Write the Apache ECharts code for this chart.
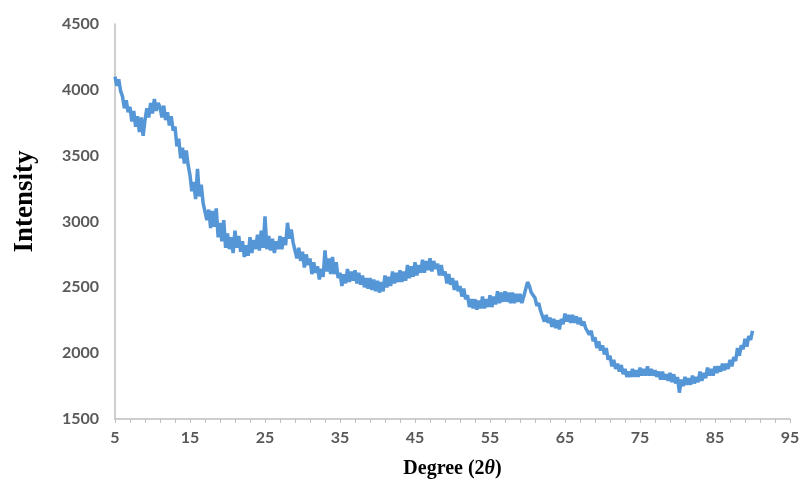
<!DOCTYPE html>
<html>
<head>
<meta charset="utf-8">
<script src="https://cdn.jsdelivr.net/npm/echarts@6/dist/echarts.min.js"></script>
<style>
  html, body { margin: 0; padding: 0; background: #fff; }
  #chart { width: 804px; height: 486px; }
</style>
</head>
<body>
<div id="chart"></div>
<script>
// XRD scan, 2theta from 5 to 90 deg, sampled every 0.25 deg
const startDeg = 5;
const stepDeg = 0.25;
const intensity = [
  4100, 4030, 4080, 3990,  3950, 3860, 3920, 3830,  3870, 3760, 3840, 3720,
  3800, 3680, 3790, 3650,  3770, 3860, 3790, 3900,  3820, 3930, 3840, 3900,
  3870, 3790, 3880, 3770,  3830, 3730, 3800, 3690,  3720, 3570, 3630, 3480,
  3560, 3440, 3540, 3430,  3350, 3230, 3300, 3170,  3400, 3190, 3280, 3140,
  3130, 3010, 3090, 2950,  3080, 2960, 3100, 2880,  2990, 2850, 3010, 2800,
  2910, 2790, 2880, 2760,  2930, 2800, 2890, 2770,  2850, 2730, 2820, 2740,
  2880, 2760, 2860, 2790,  2900, 2780, 2930, 2800,  3040, 2790, 2890, 2780,
  2870, 2760, 2850, 2790,  2890, 2790, 2880, 2820,  2990, 2870, 2940, 2840,
  2830, 2720, 2800, 2700,  2770, 2650, 2750, 2670,  2720, 2600, 2690, 2610,
  2660, 2560, 2640, 2580,  2780, 2620, 2720, 2600,  2730, 2600, 2690, 2570,
  2610, 2510, 2600, 2530,  2640, 2540, 2620, 2550,  2630, 2530, 2610, 2520,
  2590, 2500, 2570, 2490,  2570, 2480, 2560, 2470,  2550, 2460, 2540, 2470,
  2590, 2500, 2580, 2510,  2620, 2530, 2610, 2540,  2630, 2540, 2620, 2550,
  2670, 2570, 2660, 2580,  2690, 2590, 2670, 2610,  2710, 2610, 2700, 2630,
  2720, 2620, 2700, 2640,  2680, 2590, 2670, 2590,  2620, 2530, 2600, 2520,
  2570, 2480, 2550, 2470,  2510, 2430, 2490, 2410,  2440, 2350, 2410, 2340,
  2410, 2330, 2400, 2340,  2430, 2340, 2410, 2350,  2440, 2350, 2430, 2370,
  2470, 2380, 2460, 2390,  2470, 2390, 2460, 2380,  2460, 2380, 2450, 2390,
  2450, 2380, 2430, 2420,  2540, 2510, 2460, 2440,  2420, 2360, 2380, 2320,
  2310, 2240, 2290, 2230,  2270, 2200, 2260, 2190,  2250, 2180, 2260, 2220,
  2300, 2240, 2290, 2230,  2290, 2230, 2280, 2220,  2270, 2210, 2240, 2190,
  2200, 2140, 2170, 2090,  2120, 2040, 2090, 2020,  2060, 1990, 2040, 1950,
  1980, 1900, 1950, 1880,  1920, 1860, 1910, 1840,  1880, 1820, 1860, 1820,
  1880, 1820, 1870, 1820,  1890, 1830, 1880, 1830,  1900, 1830, 1880, 1830,
  1870, 1820, 1860, 1800,  1860, 1800, 1840, 1790,  1850, 1780, 1840, 1770,
  1820, 1700, 1800, 1750,  1820, 1760, 1810, 1760,  1830, 1770, 1820, 1780,
  1860, 1790, 1850, 1810,  1890, 1830, 1880, 1830,  1900, 1850, 1900, 1860,
  1920, 1870, 1920, 1880,  1950, 1900, 1970, 1940,  2040, 1980, 2060, 2030,
  2110, 2050, 2130, 2100,  2170
];
const xTicks = [5, 95, 10];
const yTicks = [1500, 4500, 500];

const points = intensity.map((v, i) => [startDeg + i * stepDeg, v]);

const chart = echarts.init(document.getElementById('chart'));
const labelStyle = {
  color: '#595959',
  fontFamily: 'Lato',
  fontWeight: 'bold',
  fontSize: 16
};
chart.setOption({
  animation: false,
  grid: { left: 115, right: 14, top: 24, bottom: 67 },
  xAxis: {
    type: 'value',
    min: xTicks[0],
    max: xTicks[1],
    interval: xTicks[2],
    name: '{a|Degree (2}{b|θ}{a|)}',
    nameLocation: 'middle',
    nameGap: 40,
    nameTextStyle: {
      rich: {
        a: { fontFamily: 'Liberation Serif', fontWeight: 'bold', fontSize: 20, color: '#000' },
        b: { fontFamily: 'Liberation Serif', fontWeight: 'bold', fontStyle: 'italic', fontSize: 20, color: '#000' }
      }
    },
    axisLine: { lineStyle: { color: '#bfbfbf', width: 1.5 } },
    axisTick: { show: true, length: 4, lineStyle: { color: '#bfbfbf' } },
    minorTick: { show: true, splitNumber: 5, length: 4, lineStyle: { color: '#bfbfbf' } },
    splitLine: { show: false },
    axisLabel: Object.assign({ margin: 11 }, labelStyle)
  },
  yAxis: {
    type: 'value',
    min: yTicks[0],
    max: yTicks[1],
    interval: yTicks[2],
    name: 'Intensity',
    nameLocation: 'middle',
    nameGap: 76,
    nameTextStyle: {
      fontFamily: 'Liberation Serif',
      fontWeight: 'bold',
      fontSize: 27,
      color: '#000',
      padding: [0, 0, 0, 40]
    },
    axisLine: { show: true, lineStyle: { color: '#bfbfbf', width: 1.5 } },
    axisTick: { show: false },
    splitLine: { show: false },
    axisLabel: Object.assign({ margin: 16, formatter: v => String(v) }, labelStyle)
  },
  series: [{
    type: 'line',
    data: points,
    showSymbol: false,
    lineStyle: { color: '#5596d6', width: 3.5 }
  }]
});
</script>
</body>
</html>
